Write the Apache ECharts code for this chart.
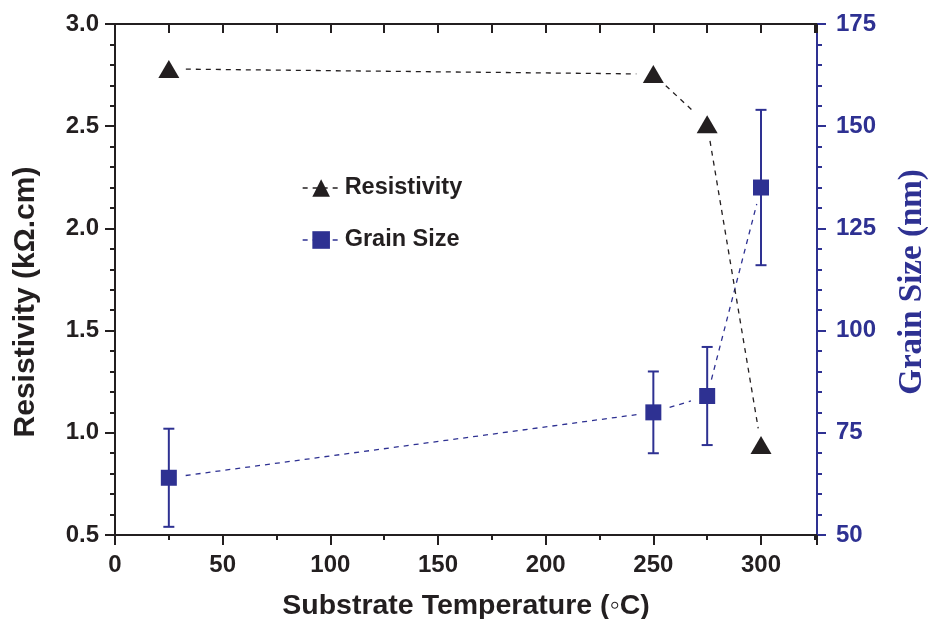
<!DOCTYPE html>
<html>
<head>
<meta charset="utf-8">
<script src="https://cdn.jsdelivr.net/npm/echarts@6/dist/echarts.min.js"></script>
<style>
  html, body { margin: 0; padding: 0; background: #fff; overflow: hidden; }
  #chart { width: 928px; height: 619px; }
</style>
</head>
<body>
<div id="chart"></div>
<script>
// Substrate temperature (°C)
const temperatures = [25, 250, 275, 300];
// Resistivity (kΩ.cm)
const resistivity = [2.78, 2.755, 2.51, 0.94];
// Grain size (nm) and its error bar half-width
const grainSize = [64, 80, 84, 135];
const grainErr = [12, 10, 12, 19];

const xTicks = [0, 50, 100, 150, 200, 250, 300];
const leftTicks = [0.5, 1.0, 1.5, 2.0, 2.5, 3.0];
const rightTicks = [50, 75, 100, 125, 150, 175];
const xMax = 326;

const BLACK = '#231f20';
const BLUE = '#2e3192';
const SANS = '"Liberation Sans", Arial, sans-serif';
const SERIF = '"Liberation Serif", "Times New Roman", serif';
const DASH = [5, 5];

const resData = temperatures.map((t, i) => [t, resistivity[i]]);
const grainData = temperatures.map((t, i) => [t, grainSize[i]]);
const errData = temperatures.map((t, i) => [t, grainSize[i] - grainErr[i], grainSize[i] + grainErr[i]]);

// Dashed connector between consecutive points, trimmed so it stops short of the symbols
function connector(points, color) {
  const gap = 17;
  return function (params, api) {
    const i = params.dataIndex;
    if (i >= points.length - 1) return null;
    const a = api.coord(points[i]);
    const b = api.coord(points[i + 1]);
    const dx = b[0] - a[0], dy = b[1] - a[1];
    const len = Math.sqrt(dx * dx + dy * dy);
    if (len <= 2 * gap) return null;
    const ux = dx / len, uy = dy / len;
    return {
      type: 'line',
      shape: { x1: a[0] + ux * gap, y1: a[1] + uy * gap, x2: b[0] - ux * gap, y2: b[1] - uy * gap },
      style: { stroke: color, lineWidth: 1.3, lineDash: DASH, fill: null }
    };
  };
}

const chart = echarts.init(document.getElementById('chart'), null, { renderer: 'canvas', width: 928, height: 619 });

chart.setOption({
  animation: false,
  backgroundColor: '#fff',
  grid: { left: 115, top: 24, width: 702, height: 511, containLabel: false, outerBoundsMode: 'none' },
  legend: {
    orient: 'vertical',
    left: 297,
    top: 171,
    itemGap: 28,
    itemWidth: 37,
    itemHeight: 22,
    textStyle: { fontFamily: SANS, fontWeight: 'bold', fontSize: 23.5, color: BLACK },
    data: [
      { name: 'Resistivity', lineStyle: { opacity: 1, color: BLACK, width: 1.3, type: DASH } },
      { name: 'Grain Size', lineStyle: { opacity: 1, color: BLUE, width: 1.3, type: DASH } }
    ]
  },
  graphic: [
    {
      type: 'text',
      x: 26, y: 302,
      rotation: Math.PI / 2,
      style: {
        text: 'Resistivity (kΩ.cm)',
        font: 'bold 30px ' + SANS,
        fill: BLACK,
        align: 'center',
        verticalAlign: 'middle'
      }
    },
    {
      type: 'text',
      x: 912, y: 282,
      rotation: Math.PI / 2,
      style: {
        text: 'Grain Size (nm)',
        font: 'bold 33px ' + SERIF,
        fill: BLUE,
        align: 'center',
        verticalAlign: 'middle'
      }
    }
  ],
  xAxis: [
    {
      type: 'value',
      position: 'bottom',
      min: xTicks[0],
      max: xMax,
      interval: 50,
      name: 'Substrate Temperature (◦C)',
      nameLocation: 'middle',
      nameGap: 57,
      nameTextStyle: { fontFamily: SANS, fontWeight: 'bold', fontSize: 28.5, color: BLACK },
      axisLine: { onZero: false, lineStyle: { color: BLACK, width: 2 } },
      axisTick: { inside: false, length: 10, lineStyle: { color: BLACK, width: 2 } },
      minorTick: { show: true, splitNumber: 2, length: 5, lineStyle: { color: BLACK, width: 2 } },
      axisLabel: {
        fontFamily: SANS, fontWeight: 'bold', fontSize: 24, color: BLACK, margin: 18,
        formatter: v => (xTicks.includes(v) ? String(v) : '')
      },
      splitLine: { show: false }
    },
    {
      type: 'value',
      position: 'top',
      min: xTicks[0],
      max: xMax,
      interval: 25,
      axisLine: { onZero: false, lineStyle: { color: BLACK, width: 2 } },
      axisTick: { inside: true, length: 9, lineStyle: { color: BLACK, width: 2 } },
      axisLabel: { show: false },
      splitLine: { show: false }
    }
  ],
  yAxis: [
    {
      type: 'value',
      position: 'left',
      min: leftTicks[0],
      max: leftTicks[leftTicks.length - 1],
      interval: 0.5,
      axisLine: { onZero: false, lineStyle: { color: BLACK, width: 2 } },
      axisTick: { inside: false, length: 10, lineStyle: { color: BLACK, width: 2 } },
      minorTick: { show: true, splitNumber: 5, length: 5, lineStyle: { color: BLACK, width: 2 } },
      axisLabel: {
        fontFamily: SANS, fontWeight: 'bold', fontSize: 24, color: BLACK, margin: 16,
        formatter: v => v.toFixed(1)
      },
      splitLine: { show: false }
    },
    {
      type: 'value',
      position: 'right',
      min: rightTicks[0],
      max: rightTicks[rightTicks.length - 1],
      interval: 25,
      axisLine: { onZero: false, lineStyle: { color: BLUE, width: 2 } },
      axisTick: { inside: false, length: 9, lineStyle: { color: BLUE, width: 2 } },
      minorTick: { show: true, splitNumber: 5, length: 5, lineStyle: { color: BLUE, width: 2 } },
      axisLabel: {
        fontFamily: SANS, fontWeight: 'bold', fontSize: 24, color: BLUE, margin: 19
      },
      splitLine: { show: false }
    }
  ],
  series: [
    {
      name: 'Grain Size error',
      type: 'custom',
      xAxisIndex: 0,
      yAxisIndex: 1,
      z: 1,
      data: errData,
      renderItem: function (params, api) {
        const x = api.value(0);
        const lo = api.coord([x, api.value(1)]);
        const hi = api.coord([x, api.value(2)]);
        const cap = 5.5;
        const style = { stroke: BLUE, lineWidth: 2, fill: null };
        return {
          type: 'group',
          children: [
            { type: 'line', shape: { x1: lo[0], y1: lo[1], x2: hi[0], y2: hi[1] }, style: style },
            { type: 'line', shape: { x1: hi[0] - cap, y1: hi[1], x2: hi[0] + cap, y2: hi[1] }, style: style },
            { type: 'line', shape: { x1: lo[0] - cap, y1: lo[1], x2: lo[0] + cap, y2: lo[1] }, style: style }
          ]
        };
      }
    },
    {
      name: 'Grain Size link',
      type: 'custom',
      xAxisIndex: 0,
      yAxisIndex: 1,
      z: 2,
      data: grainData,
      renderItem: connector(grainData, BLUE)
    },
    {
      name: 'Resistivity link',
      type: 'custom',
      xAxisIndex: 0,
      yAxisIndex: 0,
      z: 2,
      data: resData,
      renderItem: connector(resData, BLACK)
    },
    {
      name: 'Grain Size',
      type: 'line',
      xAxisIndex: 0,
      yAxisIndex: 1,
      z: 3,
      data: grainData,
      symbol: 'rect',
      symbolSize: 16,
      itemStyle: { color: BLUE },
      lineStyle: { color: BLUE, width: 1.3, type: DASH, opacity: 0 }
    },
    {
      name: 'Resistivity',
      type: 'line',
      xAxisIndex: 0,
      yAxisIndex: 0,
      z: 4,
      data: resData,
      symbol: 'triangle',
      symbolSize: [21, 18],
      itemStyle: { color: BLACK },
      lineStyle: { color: BLACK, width: 1.3, type: DASH, opacity: 0 }
    }
  ]
});
</script>
</body>
</html>
